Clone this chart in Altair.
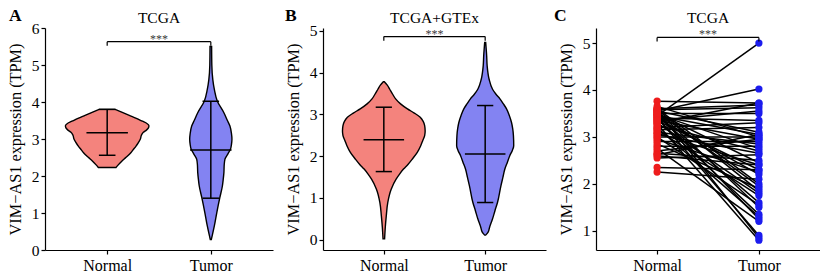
import altair as alt
import pandas as pd

FONT = "Liberation Serif"
GROUPS = ["Normal", "Tumor"]
POS = {"Normal": 1, "Tumor": 2}
FILL = ["#F4837D", "#8383F2"]
DOT = ["#EE1C1C", "#1C1CEE"]
YTITLE = "VIM\u2212AS1 expression (TPM)"
STEP_PX = 103.0  # one category step in the reference, used to read violin widths

# ---------------- violin outlines (value in TPM, half-width read in px) ----------------
a_norm_val = [3.80, 3.72, 3.64, 3.56, 3.48, 3.42, 3.36, 3.30, 3.24, 3.18, 3.10, 3.00,
              2.90, 2.80, 2.70, 2.63, 2.50, 2.40, 2.30, 2.23]
a_norm_hw = [8, 15, 22, 29, 35, 39.5, 41.5, 41, 39, 36, 34, 33,
             31, 28.5, 25.5, 23.5, 18.5, 14.5, 11, 8.8]

a_tum_val = [5.50, 5.00, 4.60, 4.34, 4.02, 3.71, 3.50, 3.35, 3.15, 2.99, 2.85, 2.72,
             2.60, 2.45, 2.30, 2.09, 1.90, 1.73, 1.42, 1.02, 0.65, 0.40, 0.28]
a_tum_hw = [0.8, 1.0, 2.0, 3.5, 6.5, 13, 16.5, 19, 20.5, 21, 20.5, 19.5,
            17, 14, 13.3, 13, 12.3, 11.5, 9, 6, 3.5, 1.5, 0.5]

b_norm_val = [3.78, 3.70, 3.60, 3.48, 3.37, 3.25, 3.13, 3.03, 2.93, 2.83, 2.73, 2.60,
              2.49, 2.37, 2.25, 2.09, 1.93, 1.80, 1.69, 1.57, 1.45, 1.21, 0.89, 0.57,
              0.30, 0.02]
b_norm_hw = [0.5, 3.5, 6, 9, 12, 17, 24, 31, 37, 40, 41.5, 42,
             41.5, 39.5, 37.5, 34, 29, 24.5, 20, 16, 12.5, 7.5, 4, 2.5,
             1.5, 0.8]

b_tum_val = [4.72, 4.40, 4.16, 3.84, 3.60, 3.48, 3.37, 3.25, 3.13, 2.97, 2.81, 2.65,
             2.49, 2.25, 2.13, 2.01, 1.85, 1.69, 1.49, 1.29, 0.89, 0.70, 0.50, 0.30,
             0.18, 0.11]
b_tum_hw = [0.5, 1.5, 2, 4, 7.5, 11, 15, 18.5, 21.7, 24.5, 26.7, 28,
            28.7, 29, 27.5, 25, 22.5, 20, 18, 16, 12.5, 10, 7.5, 4.5,
            3, 0.5]

# ---------------- summary bars (mean, lower, upper) ----------------
a_mean = [3.17, 2.70]
a_low = [2.56, 1.40]
a_high = [3.80, 4.02]
b_mean = [2.39, 2.05]
b_low = [1.63, 0.89]
b_high = [3.17, 3.21]

# ---------------- significance brackets (top, drop end) ----------------
a_bracket = [5.63, 5.52]
b_bracket = [4.86, 4.76]
c_bracket = [5.12, 5.03]

# ---------------- paired samples (panel C) ----------------
c_normal = [3.45, 3.55, 3.76, 3.60, 3.58, 3.50, 3.40, 3.30, 3.20, 3.15, 3.55, 3.45,
            3.00, 3.35, 2.90, 3.10, 2.80, 3.25, 2.70, 3.05, 2.65, 3.50, 2.60, 3.35,
            2.35, 2.25, 2.95, 3.40, 3.60, 3.52, 2.85, 3.58, 3.30, 3.15, 3.45, 3.00,
            3.55, 3.38, 3.20, 3.50, 2.75, 3.42, 3.56, 3.28, 2.55, 3.65, 3.08, 2.62,
            3.48, 3.35]
c_tumor = [5.00, 4.02, 3.72, 3.68, 3.62, 3.50, 3.35, 3.72, 3.30, 3.20, 3.10, 3.05,
           3.00, 2.95, 2.90, 2.85, 2.80, 2.70, 2.95, 2.65, 2.50, 2.45, 2.40, 2.30,
           2.30, 2.10, 2.25, 2.20, 2.00, 1.95, 1.90, 1.85, 1.80, 1.75, 1.60, 1.55,
           1.50, 1.35, 1.30, 1.25, 1.20, 0.90, 0.85, 0.80, 2.62, 3.00, 2.40, 3.05,
           2.75, 3.55]


def violin_df(nv, nw, tv, tw):
    rows = []
    for g, vals, ws in (("Normal", nv, nw), ("Tumor", tv, tw)):
        for v, w in zip(vals, ws):
            rows.append({"group": g, "pos": POS[g], "value": v, "hw": w / STEP_PX})
    return pd.DataFrame(rows)


def stats_df(mean, low, high):
    return pd.DataFrame({"group": GROUPS, "pos": [1, 2], "mean": mean, "low": low, "high": high})


def xs():
    return alt.Scale(domain=[0.4, 2.6], nice=False, zero=False)


def xaxis():
    return alt.Axis(values=[1, 2], labelExpr="datum.value == 1 ? 'Normal' : 'Tumor'",
                    title=None, grid=False, labelFontSize=16, labelPadding=3)


def ys(dom):
    return alt.Scale(domain=dom, nice=False, zero=False)


def yaxis(vals):
    return alt.Axis(values=vals, format="d", title=YTITLE, grid=False, labelFontSize=15.5,
                    titleFontSize=16.3, titleFontWeight="normal", titlePadding=8)


def bracket_layers(br, dom, yvals):
    top, drop = br
    seg = pd.DataFrame({"x": [1, 1, 2], "x2": [2, 1, 2],
                        "y": [top, top, top], "y2": [top, drop, drop]})
    rule = alt.Chart(seg).mark_rule(color="black", strokeWidth=1.2).encode(
        x=alt.X("x:Q", scale=xs(), axis=xaxis()),
        x2="x2:Q",
        y=alt.Y("y:Q", scale=ys(dom), axis=yaxis(yvals)),
        y2="y2:Q",
    )
    star = alt.Chart(pd.DataFrame({"x": [1.5], "y": [top], "t": ["***"]})).mark_text(
        fontSize=12, fill="#3a3a3a", baseline="alphabetic", dy=1, font=FONT
    ).encode(
        x=alt.X("x:Q", scale=xs(), axis=xaxis()),
        y=alt.Y("y:Q", scale=ys(dom), axis=yaxis(yvals)),
        text="t:N",
    )
    return [rule, star]


def label_layers(letter, dx, title, width):
    lt = alt.Chart(pd.DataFrame({"t": [letter]})).mark_text(
        align="left", baseline="top", fontSize=17.5, fontWeight="bold", font=FONT, fill="black"
    ).encode(x=alt.value(dx), y=alt.value(-21), text="t:N")
    tt = alt.Chart(pd.DataFrame({"t": [title]})).mark_text(
        align="center", baseline="alphabetic", fontSize=15.5, font=FONT, fill="black"
    ).encode(x=alt.value(width / 2), y=alt.value(-5.5), text="t:N")
    return [lt, tt]


def violin_panel(vdf, sdf, dom, yvals, br, title, letter, dx, width):
    fill = alt.Fill("group:N", scale=alt.Scale(domain=GROUPS, range=FILL), legend=None)
    violin = alt.Chart(vdf).transform_calculate(
        lo="datum.pos - datum.hw", hi="datum.pos + datum.hw"
    ).mark_area(orient="horizontal", interpolate="monotone", stroke="black",
                strokeWidth=1.4, opacity=1).encode(
        y=alt.Y("value:Q", scale=ys(dom), axis=yaxis(yvals)),
        x=alt.X("lo:Q", scale=xs(), axis=xaxis()),
        x2="hi:Q",
        fill=fill,
    )
    base = alt.Chart(sdf)
    vert = base.mark_rule(color="black", strokeWidth=1.5).encode(
        x=alt.X("pos:Q", scale=xs(), axis=xaxis()),
        y=alt.Y("low:Q", scale=ys(dom), axis=yaxis(yvals)),
        y2="high:Q",
    )
    caps = base.transform_fold(["low", "high"], as_=["k", "v"]).transform_calculate(
        cl="datum.pos - 0.08", cr="datum.pos + 0.08"
    ).mark_rule(color="black", strokeWidth=1.5).encode(
        x=alt.X("cl:Q", scale=xs(), axis=xaxis()),
        x2="cr:Q",
        y=alt.Y("v:Q", scale=ys(dom), axis=yaxis(yvals)),
    )
    meanl = base.transform_calculate(
        ml="datum.pos - 0.2", mr="datum.pos + 0.2"
    ).mark_rule(color="black", strokeWidth=1.5).encode(
        x=alt.X("ml:Q", scale=xs(), axis=xaxis()),
        x2="mr:Q",
        y=alt.Y("mean:Q", scale=ys(dom), axis=yaxis(yvals)),
    )
    layers = [violin, vert, caps, meanl] + bracket_layers(br, dom, yvals) \
        + label_layers(letter, dx, title, width)
    return alt.layer(*layers).properties(width=width, height=222)


panel_a = violin_panel(violin_df(a_norm_val, a_norm_hw, a_tum_val, a_tum_hw),
                       stats_df(a_mean, a_low, a_high), [0, 6], [0, 1, 2, 3, 4, 5, 6],
                       a_bracket, "TCGA", "A", -36, 228)
panel_b = violin_panel(violin_df(b_norm_val, b_norm_hw, b_tum_val, b_tum_hw),
                       stats_df(b_mean, b_low, b_high), [-0.246, 5.065], [0, 1, 2, 3, 4, 5],
                       b_bracket, "TCGA+GTEx", "B", -38, 223)

# panel C
pairs = []
for i, (n, t) in enumerate(zip(c_normal, c_tumor)):
    pairs.append({"id": i, "group": "Normal", "pos": 1, "value": n})
    pairs.append({"id": i, "group": "Tumor", "pos": 2, "value": t})
pdf = pd.DataFrame(pairs)
c_dom = [0.59, 5.32]
c_vals = [1, 2, 3, 4, 5]
cbase = alt.Chart(pdf)
c_lines = cbase.mark_line(color="black", strokeWidth=1.5).encode(
    x=alt.X("pos:Q", scale=xs(), axis=xaxis()),
    y=alt.Y("value:Q", scale=ys(c_dom), axis=yaxis(c_vals)),
    detail="id:N",
)
c_pts = cbase.mark_circle(size=52, opacity=1).encode(
    x=alt.X("pos:Q", scale=xs(), axis=xaxis()),
    y=alt.Y("value:Q", scale=ys(c_dom), axis=yaxis(c_vals)),
    color=alt.Color("group:N", scale=alt.Scale(domain=GROUPS, range=DOT), legend=None),
)
panel_c = alt.layer(c_lines, c_pts, *bracket_layers(c_bracket, c_dom, c_vals),
                    *label_layers("C", -42, "TCGA", 224)).properties(width=224, height=222)

chart = alt.hconcat(panel_a, panel_b, panel_c, spacing=50, bounds="flush").resolve_scale(
    x="independent", y="independent", fill="independent", color="independent"
).properties(
    padding={"left": 7, "top": 7, "right": 0, "bottom": 0}
).configure(font=FONT).configure_view(stroke=None).configure_axis(
    domainColor="black", tickColor="black", labelColor="black", titleColor="black",
    domainWidth=1.2, tickWidth=1.2, tickSize=4, labelFont=FONT, titleFont=FONT,
)

chart.save("out.html", embed_options={"renderer": "svg", "actions": False})
